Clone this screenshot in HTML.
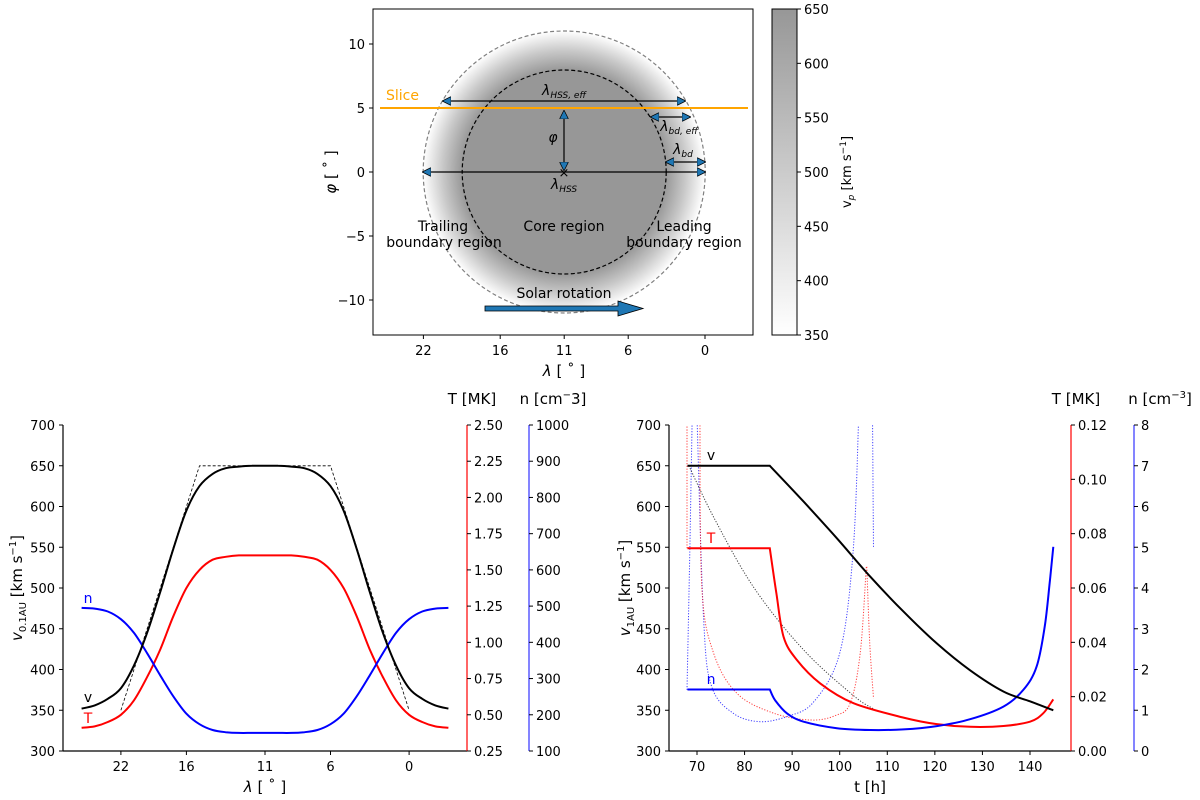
<!DOCTYPE html>
<html><head><meta charset="utf-8">
<style>
html,body{margin:0;padding:0;background:#fff;}
svg{display:block;font-family:"DejaVu Sans","Liberation Sans",sans-serif;}
</style></head>
<body>
<svg id="fig" width="1200" height="800" viewBox="0 0 1200 800" xmlns="http://www.w3.org/2000/svg">
<defs>
  <radialGradient id="hss" gradientUnits="userSpaceOnUse" cx="564" cy="172" r="141">
    <stop offset="0" stop-color="#979797"/>
    <stop offset="0.72" stop-color="#979797"/>
    <stop offset="0.86" stop-color="#c8c8c8"/>
    <stop offset="1" stop-color="#ffffff"/>
  </radialGradient>
  <linearGradient id="cbar" x1="0" y1="0" x2="0" y2="1">
    <stop offset="0" stop-color="#979797"/>
    <stop offset="1" stop-color="#ffffff"/>
  </linearGradient>
  <clipPath id="clipBR"><rect x="669" y="425" width="402" height="326"/></clipPath>
  <marker id="ah" viewBox="0 0 10 10" refX="9" refY="5" markerWidth="9" markerHeight="9" orient="auto-start-reverse" markerUnits="userSpaceOnUse">
    <path d="M0,0 L10,5 L0,10 z" fill="#1f77b4" stroke="#000" stroke-width="0.8"/>
  </marker>
</defs>
<g id="topPanel"></g>
<g id="blPanel"></g>
<g id="brPanel"></g>
</svg>
<script>
// ---------- data ----------
const topXTicks = [22, 16, 11, 6, 0];
const topYTicks = [10, 5, 0, -5, -10];
const cbarTicks = [650, 600, 550, 500, 450, 400, 350];
const blLam = [25,24,23,22,21,20,19,18,17,16,15,14,13,12,11,10,9,8,7,6,5,4,3,2,1,0,-1,-2,-3];
const blV = [352,356,364,377,405,445,495,548,595,625,640,647,649,650,650,650,649,647,640,625,595,548,495,445,405,377,364,356,352];
const blT = [0.41,0.42,0.45,0.50,0.60,0.76,0.95,1.18,1.375,1.50,1.57,1.59,1.60,1.60,1.60,1.60,1.60,1.59,1.57,1.50,1.375,1.18,0.95,0.76,0.60,0.50,0.45,0.42,0.41];
const blN = [495,493,485,464,426,370,309,251,203,174,158,152,150,150,150,150,150,152,158,174,203,251,309,370,426,464,485,493,495];
const trapLam = [22,16,6,0];
const trapV = [350,650,650,350];
const blXTickVals = [22,17,11,6,0];
const blXTickLabels = ["22","16","11","6","0"];
const vTicks = [300,350,400,450,500,550,600,650,700];
const blTTicks = [0.25,0.50,0.75,1.00,1.25,1.50,1.75,2.00,2.25,2.50];
const blNTicks = [100,200,300,400,500,600,700,800,900,1000];
const brTv = [68,85.3,92.4,99.4,106.4,113.4,120.4,127.4,134.4,140,144.9];
const brV = [650,650,606,561,514,471,432,399,373,361,350];
const brTT = [68,85.3,86.7,88.2,91,95.9,102.9,113.4,120.4,127.4,134.4,140,142.8,144.9];
const brT = [0.0746,0.0746,0.058,0.042,0.0335,0.0249,0.0176,0.0123,0.0099,0.0089,0.0092,0.0108,0.0139,0.019];
const brTn = [68,85.3,86.4,88.9,92.4,99.4,106.4,113.4,120.4,127.4,134.4,138.6,141.4,143.1,144.2,144.9];
const brN = [1.51,1.51,1.25,0.925,0.72,0.56,0.515,0.53,0.61,0.78,1.09,1.50,2.07,3.05,4.2,5.01];
const dotVt = [68.3,73.5,81.9,92.4,102.9,107];
const dotV = [650,587,501,424,368,352];
const dotNAt = [67.9,68.5,69.0];
const dotNA = [1.5,5,8.2];
const dotNBt = [70.0,71.4,73.1,77.7,83.3,89,94.5,100,102.8,104.0];
const dotNB = [8.2,3.2,1.58,0.92,0.72,0.85,1.2,2.4,4.86,8.2];
const dotNCt = [106.9,107.0,107.1];
const dotNC = [8.2,6.5,5.0];
const dotTAt = [67.9,67.9];
const dotTA = [0.0746,0.125];
const dotTBt = [70.6,71,73.5,78.4,86,93.8,99,102.2,104.3,105.6];
const dotTB = [0.125,0.0605,0.036,0.0212,0.014,0.0114,0.013,0.0176,0.036,0.0678];
const dotTCt = [105.7,106.3,107.1];
const dotTC = [0.0678,0.04,0.0194];
const brXTicks = [70,80,90,100,110,120,130,140];
const brTTicks = [0.00,0.02,0.04,0.06,0.08,0.10,0.12];
const brNTicks = [0,1,2,3,4,5,6,7,8];

// ---------- helpers ----------
const NS = "http://www.w3.org/2000/svg";
function mk(parent, tag, attrs, txt) {
  const e = document.createElementNS(NS, tag);
  for (const k in attrs) e.setAttribute(k, attrs[k]);
  if (txt !== undefined) e.textContent = txt;
  parent.appendChild(e);
  return e;
}
function crPath(pts) {
  let d = "M" + pts[0][0].toFixed(1) + "," + pts[0][1].toFixed(1);
  for (let i = 0; i < pts.length - 1; i++) {
    const p0 = pts[Math.max(0, i - 1)], p1 = pts[i], p2 = pts[i + 1], p3 = pts[Math.min(pts.length - 1, i + 2)];
    const c1x = p1[0] + (p2[0] - p0[0]) / 6, c1y = p1[1] + (p2[1] - p0[1]) / 6;
    const c2x = p2[0] - (p3[0] - p1[0]) / 6, c2y = p2[1] - (p3[1] - p1[1]) / 6;
    d += " C" + c1x.toFixed(1) + "," + c1y.toFixed(1) + " " + c2x.toFixed(1) + "," + c2y.toFixed(1) + " " + p2[0].toFixed(1) + "," + p2[1].toFixed(1);
  }
  return d;
}
function linPath(pts) { return "M" + pts.map(p => p[0].toFixed(1) + "," + p[1].toFixed(1)).join(" L"); }
const FS = 13;

// ---------- top panel ----------
const topG = document.getElementById("topPanel");
const tX = l => 705 - l * 12.8;
const tY = p => 172 - p * 12.8;
const hssC = mk(topG, "circle", {cx: tX(11), cy: tY(0), r: 141, fill: "url(#hss)"});


const outerC = mk(topG, "circle", {cx: tX(11), cy: tY(0), r: 141, fill: "none", stroke: "#808080", "stroke-width": 1.2, "stroke-dasharray": "4,2.5"});


const innerC = mk(topG, "circle", {cx: tX(11), cy: tY(0), r: 102, fill: "none", stroke: "#000", "stroke-width": 1.2, "stroke-dasharray": "4,2.5"});


const sliceL = mk(topG, "line", {x1: 380, y1: tY(5), x2: 748, y2: tY(5), stroke: "#ffa500", "stroke-width": 2});


const sliceLbl = mk(topG, "text", {x: 386, y: 100, fill: "#ffa500", "font-size": 14}, "Slice");


function arrow(x1, y1, x2, y2, name) {
  const a = mk(topG, "line", {x1, y1, x2, y2, stroke: "#000", "stroke-width": 1.2, "marker-start": "url(#ah)", "marker-end": "url(#ah)"});
  
  
}
arrow(443, 101, 685, 101, "lambda-hss-eff-arrow");
arrow(564, 111, 564, 170, "phi-arrow");
arrow(423, 172, 705, 172, "lambda-hss-arrow");
arrow(651, 117, 690, 117, "lambda-bd-eff-arrow");
arrow(666, 162, 705, 162, "lambda-bd-arrow");
const crossM = mk(topG, "text", {x: 564, y: 177, "font-size": 13, "text-anchor": "middle"}, "×");


function rich(g, x, y, parts, name, size, anchor, transform) {
  const attrs = {x, y, "font-size": size || 13, "text-anchor": anchor || "middle"};
  if (transform) { attrs.transform = transform; attrs.x = 0; attrs.y = 0; }
  const t = mk(g, "text", attrs);
  parts.forEach(p => {
    const s = document.createElementNS(NS, "tspan");
    s.textContent = p[0];
    if (p[1]) s.setAttribute("font-size", p[1]);
    if (p[2]) s.setAttribute("dy", p[2]);
    if (p[3]) s.setAttribute("font-style", "italic");
    t.appendChild(s);
  });
  
  
  return t;
}
rich(topG, 564, 95, [["λ",0,0,1],["HSS, eff",9,3,1]], "lambda-hss-eff-label", 14);
rich(topG, 553, 142, [["φ",0,0,1]], "phi-label", 14);
rich(topG, 564, 189, [["λ",0,0,1],["HSS",9,3,1]], "lambda-hss-label", 14);
rich(topG, 679, 131, [["λ",0,0,1],["bd, eff",9,3,1]], "lambda-bd-eff-label", 14);
rich(topG, 683, 154, [["λ",0,0,1],["bd",9,3,1]], "lambda-bd-label", 14);
rich(topG, 443, 231, [["Trailing"]], "trailing-label", 14);
rich(topG, 444, 247, [["boundary region"]], "trailing-label-2", 14);
rich(topG, 564, 231, [["Core region"]], "core-region-label", 14);
rich(topG, 684, 231, [["Leading"]], "leading-label", 14);
rich(topG, 684, 247, [["boundary region"]], "leading-label-2", 14);
rich(topG, 564, 298, [["Solar rotation"]], "solar-rotation-label", 14);
const rot = mk(topG, "path", {d: "M485,306 L618,306 L618,301 L643,308.5 L618,316 L618,311 L485,311 Z", fill: "#1f77b4", stroke: "#000", "stroke-width": 0.8});


const tbox = mk(topG, "rect", {x: 373, y: 9, width: 380, height: 326, fill: "none", stroke: "#000", "stroke-width": 1});


topXTicks.forEach(v => {
  const x = tX(v);
  mk(topG, "line", {x1: x, y1: 335, x2: x, y2: 339, stroke: "#000"});
  const t = mk(topG, "text", {x, y: 355, "font-size": FS, "text-anchor": "middle"}, String(v));
  
  
});
topYTicks.forEach(v => {
  const y = tY(v);
  mk(topG, "line", {x1: 369, y1: y, x2: 373, y2: y, stroke: "#000"});
  const t = mk(topG, "text", {x: 365, y: y + 5, "font-size": FS, "text-anchor": "end"}, v < 0 ? "−" + (-v) : String(v));
  
  
});
rich(topG, 564, 376, [["λ",0,0,1],[" [ ˚ ]"]], "top-x-axis-title", 15);
rich(topG, 0, 0, [["φ",0,0,1],[" [ ˚ ]"]], "top-y-axis-title", 15, "middle", "translate(336,172) rotate(-90)");
const cb = mk(topG, "rect", {x: 772, y: 9, width: 25, height: 326, fill: "url(#cbar)", stroke: "#000", "stroke-width": 1});


cbarTicks.forEach(v => {
  const y = 335 - (v - 350) / 300 * 326;
  mk(topG, "line", {x1: 797, y1: y, x2: 801, y2: y, stroke: "#000"});
  const t = mk(topG, "text", {x: 804, y: y + 5, "font-size": FS}, String(v));
  
  
});
rich(topG, 0, 0, [["v"],["p",9,3,1],[" [km s",0,-3],["−1",9,-5],["]",0,5]], "colorbar-title", 13, "middle", "translate(851,172) rotate(-90)");

// ---------- bottom-left ----------
const blG = document.getElementById("blPanel");
const lX = l => 265 - (l - 11) * 13.1;
const yV = v => 751 - (v - 300) * 0.815;
const lYT = T => 751 - (T - 0.25) / 2.25 * 326;
const lYN = n => 751 - (n - 100) / 900 * 326;
function axisText(g, x, y, s, anchor, name, color, size) {
  const t = mk(g, "text", {x, y, "font-size": size || FS, "text-anchor": anchor, fill: color || "#000"}, s);
  
  
}
mk(blG, "line", {x1: 63, y1: 425, x2: 63, y2: 751, stroke: "#000", "stroke-width": 1.2});
mk(blG, "line", {x1: 63, y1: 751, x2: 467, y2: 751, stroke: "#000", "stroke-width": 1.2});
mk(blG, "line", {x1: 467, y1: 425, x2: 467, y2: 751, stroke: "#ff0000", "stroke-width": 1.2});
mk(blG, "line", {x1: 529, y1: 425, x2: 529, y2: 751, stroke: "#0000ff", "stroke-width": 1.2, opacity: 0.8});
vTicks.forEach(v => {
  const y = yV(v);
  mk(blG, "line", {x1: 59, y1: y, x2: 63, y2: y, stroke: "#000"});
  axisText(blG, 55, y + 5, String(v), "end", "bl-y-tick-label");
});
blTTicks.forEach(v => {
  const y = lYT(v);
  mk(blG, "line", {x1: 467, y1: y, x2: 471, y2: y, stroke: "#000"});
  axisText(blG, 474, y + 5, v.toFixed(2), "start", "bl-t-tick-label");
});
blNTicks.forEach(v => {
  const y = lYN(v);
  mk(blG, "line", {x1: 529, y1: y, x2: 533, y2: y, stroke: "#000"});
  axisText(blG, 536, y + 5, String(v), "start", "bl-n-tick-label");
});
blXTickVals.forEach((v, i) => {
  const x = lX(v);
  mk(blG, "line", {x1: x, y1: 751, x2: x, y2: 755, stroke: "#000"});
  axisText(blG, x, 771, blXTickLabels[i], "middle", "bl-x-tick-label");
});
const trap = mk(blG, "path", {d: linPath(trapLam.map((l, i) => [lX(l), yV(trapV[i])])), fill: "none", stroke: "#000", "stroke-width": 0.8, "stroke-dasharray": "3,2"});


const lT = mk(blG, "path", {d: crPath(blLam.map((l, i) => [lX(l), lYT(blT[i])])), fill: "none", stroke: "#ff0000", "stroke-width": 2});


const lN = mk(blG, "path", {d: crPath(blLam.map((l, i) => [lX(l), lYN(blN[i])])), fill: "none", stroke: "#0000ff", "stroke-width": 2});


const lV = mk(blG, "path", {d: crPath(blLam.map((l, i) => [lX(l), yV(blV[i])])), fill: "none", stroke: "#000", "stroke-width": 2});


axisText(blG, 88, 603, "n", "middle", "n-series-label", "#0000ff", 14);
axisText(blG, 88, 702, "v", "middle", "v-series-label", "#000", 14);
axisText(blG, 88, 723, "T", "middle", "t-series-label", "#ff0000", 14);
rich(blG, 265, 792, [["λ",0,0,1],[" [ ˚ ]"]], "bl-x-axis-title", 15);
rich(blG, 0, 0, [["v",0,0,1],["0.1AU",10,4],[" [km s",0,-4],["−1",10,-6],["]",0,6]], "bl-y-axis-title", 15, "middle", "translate(22,588) rotate(-90)");
axisText(blG, 472, 404, "T [MK]", "middle", "bl-t-axis-title", "#000", 15);
rich(blG, 553, 404, [["n [cm"],["−",10,-6],["3]",0,6]], "bl-n-axis-title", 15);

// ---------- bottom-right ----------
const brG = document.getElementById("brPanel");
const rX = t => 697 + (t - 70) * 4.757;
const rYT = T => 751 - T / 0.12 * 326;
const rYN = n => 751 - n / 8 * 326;
mk(brG, "line", {x1: 669, y1: 425, x2: 669, y2: 751, stroke: "#000", "stroke-width": 1.2});
mk(brG, "line", {x1: 669, y1: 751, x2: 1071, y2: 751, stroke: "#000", "stroke-width": 1.2});
mk(brG, "line", {x1: 1071, y1: 425, x2: 1071, y2: 751, stroke: "#ff0000", "stroke-width": 1.2});
mk(brG, "line", {x1: 1134, y1: 425, x2: 1134, y2: 751, stroke: "#0000ff", "stroke-width": 1.2, opacity: 0.8});
vTicks.forEach(v => {
  const y = yV(v);
  mk(brG, "line", {x1: 665, y1: y, x2: 669, y2: y, stroke: "#000"});
  axisText(brG, 661, y + 5, String(v), "end", "br-y-tick-label");
});
brTTicks.forEach(v => {
  const y = rYT(v);
  mk(brG, "line", {x1: 1071, y1: y, x2: 1075, y2: y, stroke: "#000"});
  axisText(brG, 1078, y + 5, v.toFixed(2), "start", "br-t-tick-label");
});
brNTicks.forEach(v => {
  const y = rYN(v);
  mk(brG, "line", {x1: 1134, y1: y, x2: 1138, y2: y, stroke: "#000"});
  axisText(brG, 1141, y + 5, String(v), "start", "br-n-tick-label");
});
brXTicks.forEach(v => {
  const x = rX(v);
  mk(brG, "line", {x1: x, y1: 751, x2: x, y2: 755, stroke: "#000"});
  axisText(brG, x, 771, String(v), "middle", "br-x-tick-label");
});
const clipG = mk(brG, "g", {"clip-path": "url(#clipBR)"});
function dotted(tArr, yArr, yf, color, name) {
  const p = mk(clipG, "path", {d: crPath(tArr.map((t, i) => [rX(t), yf(yArr[i])])), fill: "none", stroke: color, "stroke-width": 1, "stroke-dasharray": "1.2,1.6", opacity: 0.75});
  
  
}
dotted(dotNAt, dotNA, rYN, "#0000ff", "n-dotted-spike");
dotted(dotNBt, dotNB, rYN, "#0000ff", "n-dotted-u");
dotted(dotNCt, dotNC, rYN, "#0000ff", "n-dotted-tail");
dotted(dotTAt, dotTA, rYT, "#ff0000", "t-dotted-spike");
dotted(dotTBt, dotTB, rYT, "#ff0000", "t-dotted-u");
dotted(dotTCt, dotTC, rYT, "#ff0000", "t-dotted-tail");
dotted(dotVt, dotV, yV, "#000", "v-dotted");
function solid(tArr, yArr, yf, color, name) {
  const first = "M" + rX(tArr[0]).toFixed(1) + "," + yf(yArr[0]).toFixed(1);
  const rest = crPath(tArr.slice(1).map((t, i) => [rX(t), yf(yArr[i + 1])])).replace("M", " L");
  const p = mk(clipG, "path", {d: first + rest, fill: "none", stroke: color, "stroke-width": 2});
  
  
}
solid(brTT, brT, rYT, "#ff0000", "t-line-1au");
solid(brTn, brN, rYN, "#0000ff", "n-line-1au");
solid(brTv, brV, yV, "#000", "v-line-1au");
axisText(brG, 711, 460, "v", "middle", "br-v-series-label", "#000", 14);
axisText(brG, 711, 543, "T", "middle", "br-t-series-label", "#ff0000", 14);
axisText(brG, 711, 684, "n", "middle", "br-n-series-label", "#0000ff", 14);
axisText(brG, 870, 792, "t [h]", "middle", "br-x-axis-title", "#000", 15);
rich(brG, 0, 0, [["v",0,0,1],["1AU",10,4],[" [km s",0,-4],["−1",10,-6],["]",0,6]], "br-y-axis-title", 15, "middle", "translate(630,588) rotate(-90)");
axisText(brG, 1076, 404, "T [MK]", "middle", "br-t-axis-title", "#000", 15);
rich(brG, 1160, 404, [["n [cm"],["−3",10,-6],["]",0,6]], "br-n-axis-title", 15);
</script>
</body></html>
